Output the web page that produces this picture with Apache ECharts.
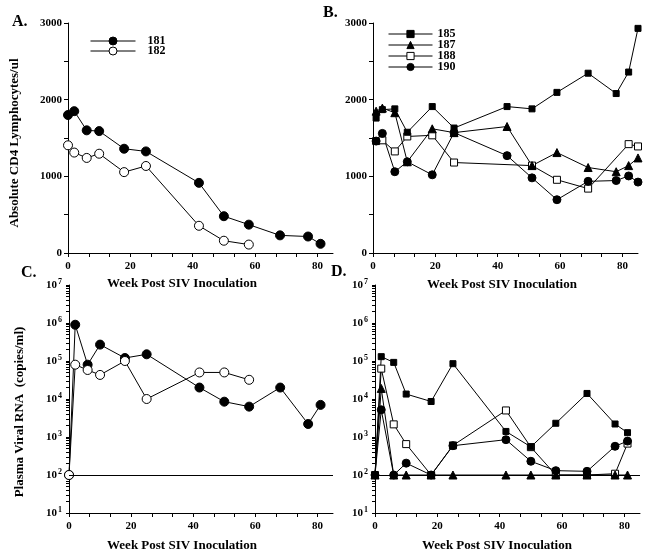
<!DOCTYPE html>
<html><head><meta charset="utf-8">
<script src="https://cdn.jsdelivr.net/npm/echarts@6/dist/echarts.min.js"></script>
<style>html,body{margin:0;padding:0;background:#fff}#c{width:651px;height:560px}</style>
</head><body><div id="c"></div>
<script>
// ---------- data ----------
// Panel A: CD4 counts
const weeksA181 = [0, 2, 6, 10, 18, 25, 42, 50, 58, 68, 77, 81];
const cd4_181 = [1800, 1850, 1600, 1590, 1360, 1325, 915, 480, 370, 230, 215, 120];
const weeksA182 = [0, 2, 6, 10, 18, 25, 42, 50, 58];
const cd4_182 = [1405, 1310, 1240, 1295, 1055, 1135, 355, 160, 110];
// Panel B: CD4 counts
const weeksB = [1, 3, 7, 11, 19, 26, 43, 51, 59, 69, 78, 82, 85];
const cd4_185 = [1760, 1870, 1880, 1575, 1910, 1630, 1910, 1880, 2095, 2345, 2080, 2360, 2930];
const cd4_187 = [1850, 1890, 1830, 1190, 1620, 1570, 1650, 1140, 1310, 1115, 1060, 1140, 1240];
const weeksB188 = [1, 3, 7, 11, 19, 26, 51, 59, 69, 82, 85];
const cd4_188 = [1460, 1470, 1325, 1520, 1535, 1180, 1140, 955, 840, 1420, 1390];
const cd4_190 = [1460, 1560, 1060, 1190, 1020, 1570, 1270, 980, 695, 935, 945, 1005, 925];
// Panel C: plasma viral RNA
const weeksC181 = [0, 2, 6, 10, 18, 25, 42, 50, 58, 68, 77, 81];
const rna_181 = [100, 900000, 80000, 270000, 120000, 150000, 20000, 8500, 6300, 20000, 2200, 7000];
const weeksC182 = [0, 2, 6, 10, 18, 25, 42, 50, 58];
const rna_182 = [100, 80000, 58000, 43000, 100000, 10000, 50000, 50000, 32000];
// Panel D: plasma viral RNA
const weeksD = [0, 2, 6, 10, 18, 25, 42, 50, 58, 68, 77, 81];
const rna_185 = [100, 130000, 92000, 13500, 8600, 85000, 1400, 550, 2300, 14000, 2200, 1300];
const rna_187 = [100, 19000, 100, 100, 100, 100, 100, 100, 100, 100, 100, 100];
const rna_188 = [100, 63000, 2150, 650, 100, 600, 5000, 540, 100, 100, 108, 670];
const rna_190 = [100, 5200, 100, 205, 100, 590, 850, 230, 130, 125, 570, 780];
const detectionLimit = 100;
// tick labels
const weekTicks = [0, 20, 40, 60, 80];
const cd4Ticks = [0, 1000, 2000, 3000];
const rnaTicks = [10, 100, 1000, 10000, 100000, 1000000, 10000000];
const legendA = ['181', '182'];
const legendB = ['185', '187', '188', '190'];

// ---------- styling ----------
const F = '"Liberation Serif", "Times New Roman", serif';
const markers = {
  '181': { symbol: 'circle', size: 9, fill: '#000' },
  '182': { symbol: 'circle', size: 9, fill: '#fff' },
  '185': { symbol: 'rect', size: 6, fill: '#000' },
  '187': { symbol: 'triangle', size: 8, fill: '#000' },
  '188': { symbol: 'rect', size: 7, fill: '#fff' },
  '190': { symbol: 'circle', size: 8, fill: '#000' }
};
const pairs = (xs, ys) => xs.map((x, i) => [x, ys[i]]);

const weekMinor = [];
for (let i = 0; i <= 12; i++) weekMinor.push(i * 20 / 3);
const cd4Minor = [];
for (let i = 0; i <= 6; i++) cd4Minor.push(i * 500);
const rnaMinor = [];
for (let e = 1; e < 7; e++) for (let m = 1; m < 10; m++) rnaMinor.push(m * Math.pow(10, e));
rnaMinor.push(1e7);

function mkSeries(name, data, xi, extra) {
  const m = markers[name];
  return Object.assign({
    type: 'line', name, data, xAxisIndex: xi, yAxisIndex: xi,
    symbol: m.symbol, symbolSize: m.size, showAllSymbol: true,
    lineStyle: { color: '#000', width: 1 },
    itemStyle: { color: m.fill, borderColor: '#000', borderWidth: 1 },
    emphasis: { disabled: true }, z: 3
  }, extra || {});
}

function xAx(i) {
  return {
    type: 'value', gridIndex: i, min: 0, max: 85, interval: 20,
    axisLine: { show: true, onZero: false, lineStyle: { color: '#000', width: 1 } },
    axisTick: { show: true, length: 4, customValues: weekMinor, lineStyle: { color: '#000' } },
    axisLabel: { customValues: weekTicks, color: '#000', fontFamily: F, fontWeight: 'bold', fontSize: 11, margin: 8,
      formatter: v => String(v) },
    splitLine: { show: false }
  };
}
function yLin(i) {
  return {
    type: 'value', gridIndex: i, min: cd4Ticks[0], max: cd4Ticks[cd4Ticks.length - 1], interval: 1000,
    axisLine: { show: true, onZero: false, lineStyle: { color: '#000', width: 1 } },
    axisTick: { show: true, length: 4, customValues: cd4Minor, lineStyle: { color: '#000' } },
    axisLabel: { customValues: cd4Ticks, color: '#000', fontFamily: F, fontWeight: 'bold', fontSize: 11, margin: 6,
      formatter: v => String(v) },
    splitLine: { show: false }
  };
}
function yLog(i) {
  return {
    type: 'log', logBase: 10, gridIndex: i, min: rnaTicks[0], max: rnaTicks[rnaTicks.length - 1],
    axisLine: { show: true, onZero: false, lineStyle: { color: '#000', width: 1 } },
    axisTick: { show: true, length: 3, customValues: rnaMinor, lineStyle: { color: '#000' } },
    axisLabel: {
      color: '#000', margin: 7,
      formatter: v => '{b|10}{s|' + Math.round(Math.log10(v)) + '}',
      rich: {
        b: { fontFamily: F, fontWeight: 'bold', fontSize: 11, color: '#000', lineHeight: 14 },
        s: { fontFamily: F, fontWeight: 'bold', fontSize: 8, color: '#000', lineHeight: 8, verticalAlign: 'top', padding: [0, 0, 0, 1] }
      }
    },
    splitLine: { show: false }
  };
}
const markLimit = {
  silent: true, symbol: ['none', 'none'], label: { show: false },
  lineStyle: { color: '#000', type: 'solid', width: 1 },
  data: [{ yAxis: detectionLimit }]
};
const legendTextA = { fontFamily: F, fontWeight: 'bold', fontSize: 12, color: '#000', lineHeight: 10, padding: [0, 0, 0, 7] };
const legendTextB = { fontFamily: F, fontWeight: 'bold', fontSize: 12, color: '#000', lineHeight: 10, padding: [0, 0, 0, 0] };

const option = {
  animation: false,
  backgroundColor: '#fff',
  grid: [
    { left: 68, top: 23, width: 265, height: 230 },
    { left: 373, top: 23, width: 265, height: 230 },
    { left: 69, top: 285, width: 264, height: 228 },
    { left: 375, top: 285, width: 265, height: 228 }
  ],
  xAxis: [xAx(0), xAx(1), xAx(2), xAx(3)],
  yAxis: [yLin(0), yLin(1), yLog(2), yLog(3)],
  legend: [
    { data: legendA, left: 90, top: 35, padding: 0, orient: 'vertical', itemWidth: 45, itemHeight: 10, itemGap: -2,
      selectedMode: false, textStyle: legendTextA, itemStyle: { borderWidth: 1 }, lineStyle: { width: 1 } },
    { data: legendB, left: 388, top: 28, padding: 0, orient: 'vertical', itemWidth: 44, itemHeight: 9, itemGap: -1,
      selectedMode: false, textStyle: legendTextB, itemStyle: { borderWidth: 1 }, lineStyle: { width: 1 } }
  ],
  series: [
    mkSeries('181', pairs(weeksA181, cd4_181), 0),
    mkSeries('182', pairs(weeksA182, cd4_182), 0),
    mkSeries('188', pairs(weeksB188, cd4_188), 1),
    mkSeries('187', pairs(weeksB, cd4_187), 1),
    mkSeries('190', pairs(weeksB, cd4_190), 1),
    mkSeries('185', pairs(weeksB, cd4_185), 1),
    mkSeries('181', pairs(weeksC181, rna_181), 2, { markLine: markLimit }),
    mkSeries('182', pairs(weeksC182, rna_182), 2),
    mkSeries('188', pairs(weeksD, rna_188), 3, { markLine: markLimit }),
    mkSeries('190', pairs(weeksD, rna_190), 3),
    mkSeries('187', pairs(weeksD, rna_187), 3),
    mkSeries('185', pairs(weeksD, rna_185), 3)
  ],
  graphic: [
    { type: 'text', left: 12, top: 14, style: { text: 'A.', font: 'bold 16px ' + F, fill: '#000' } },
    { type: 'text', left: 323, top: 5, style: { text: 'B.', font: 'bold 16px ' + F, fill: '#000' } },
    { type: 'text', left: 21, top: 265, style: { text: 'C.', font: 'bold 16px ' + F, fill: '#000' } },
    { type: 'text', left: 331, top: 264, style: { text: 'D.', font: 'bold 16px ' + F, fill: '#000' } },
    { type: 'text', x: 182, y: 284, style: { text: 'Week Post SIV Inoculation', font: 'bold 13px ' + F, fill: '#000', align: 'center', verticalAlign: 'middle' } },
    { type: 'text', x: 502, y: 285, style: { text: 'Week Post SIV Inoculation', font: 'bold 13px ' + F, fill: '#000', align: 'center', verticalAlign: 'middle' } },
    { type: 'text', x: 182, y: 546, style: { text: 'Week Post SIV Inoculation', font: 'bold 13px ' + F, fill: '#000', align: 'center', verticalAlign: 'middle' } },
    { type: 'text', x: 497, y: 546, style: { text: 'Week Post SIV Inoculation', font: 'bold 13px ' + F, fill: '#000', align: 'center', verticalAlign: 'middle' } },
    { type: 'text', x: 15, y: 143, rotation: Math.PI / 2, style: { text: 'Absolute CD4 Lymphocytes/ul', font: 'bold 13px ' + F, fill: '#000', align: 'center', verticalAlign: 'middle' } },
    { type: 'text', x: 20, y: 412, rotation: Math.PI / 2, style: { text: 'Plasma Viral RNA  (copies/ml)', font: 'bold 13px ' + F, fill: '#000', align: 'center', verticalAlign: 'middle' } }
  ]
};
const chart = echarts.init(document.getElementById('c'), null, { renderer: 'canvas' });
chart.setOption(option);
</script>
</body></html>
